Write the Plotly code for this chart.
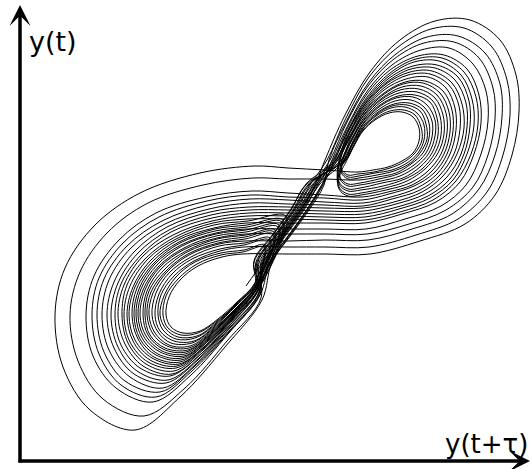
import plotly.graph_objects as go

# Delay-embedding portrait y(t) vs y(t+tau).
# Units: arbitrary, origin at the axes corner.

# ---- left lobe loops (inner -> outer) ----
L00 = [(223,207),(202,204),(178,195),(160,181),(149,164),(146,146),(151,134),(163,128),(180,130),(198,142),(217,159),(235,178)]
La025 = [(223,209),(201,206),(177,197),(158,182),(146,165),(143,146),(148,133),(161,126),(178,128),(197,140),(217,158),(235,178)]
L01 = [(224,211),(201,208),(175,199),(156,184),(144,165),(140,146),(146,132),(158,124),(177,125),(196,138),(216,157),(235,177)]
La075 = [(224,214),(200,210),(174,200),(154,185),(141,166),(138,146),(143,131),(156,122),(175,123),(195,136),(216,156),(236,177)]
L02 = [(224,216),(200,212),(172,202),(152,187),(139,167),(135,146),(140,130),(154,120),(174,120),(194,134),(216,155),(236,176)]
La125 = [(225,218),(199,215),(171,204),(149,188),(136,168),(132,146),(138,129),(151,118),(172,118),(193,132),(216,153),(236,176)]
L03 = [(225,220),(199,217),(169,206),(147,189),(133,168),(129,146),(135,128),(149,116),(170,115),(192,130),(215,152),(236,175)]
La17 = [(225,222),(198,218),(168,207),(146,190),(131,169),(127,146),(133,127),(147,115),(169,113),(192,129),(215,151),(236,175)]
L04 = [(225,224),(198,220),(167,209),(144,191),(129,170),(125,146),(130,126),(145,113),(168,111),(191,127),(215,150),(236,175)]
La21 = [(226,226),(197,222),(166,210),(142,193),(127,170),(123,146),(128,126),(143,112),(166,109),(190,126),(214,150),(236,174)]
L05 = [(226,227),(197,223),(165,212),(140,194),(125,171),(120,146),(126,125),(142,110),(165,107),(189,124),(214,149),(237,174)]
La25 = [(226,229),(196,225),(164,213),(139,195),(123,171),(118,146),(124,124),(140,109),(164,105),(188,122),(214,148),(237,174)]
L06 = [(226,231),(196,227),(162,215),(137,196),(121,172),(116,146),(122,123),(138,107),(162,103),(188,121),(214,147),(237,173)]
La29 = [(226,232),(196,228),(161,216),(135,197),(119,172),(114,146),(120,122),(136,106),(161,101),(187,119),(214,146),(237,173)]
L07 = [(227,234),(195,230),(160,218),(134,198),(117,173),(112,146),(118,122),(134,104),(160,99),(186,118),(213,145),(237,173)]
La33 = [(227,236),(195,232),(159,219),(132,199),(115,174),(109,146),(115,121),(132,103),(159,97),(186,116),(213,144),(237,172)]
L08 = [(227,238),(194,233),(158,221),(130,200),(113,174),(107,146),(113,120),(130,101),(157,95),(185,115),(213,143),(237,172)]
La375 = [(228,240),(194,236),(156,222),(128,202),(110,175),(104,146),(110,119),(128,99),(156,93),(184,113),(212,142),(238,172)]
L09 = [(228,242),(193,238),(155,224),(126,203),(107,176),(102,146),(108,118),(126,97),(154,90),(183,111),(212,141),(238,171)]
La43 = [(228,245),(192,240),(153,226),(123,205),(104,176),(98,146),(105,117),(123,95),(152,87),(182,108),(212,140),(238,171)]
L10 = [(229,248),(192,243),(151,229),(121,206),(101,177),(95,146),(101,116),(120,93),(150,85),(180,106),(212,138),(238,170)]
La495 = [(229,251),(191,246),(149,231),(118,208),(98,178),(91,146),(98,114),(117,90),(148,81),(179,103),(211,137),(238,170)]
L11 = [(229,254),(190,249),(147,234),(115,210),(94,179),(87,146),(94,113),(114,87),(146,78),(178,101),(211,135),(239,169)]
La575 = [(230,258),(189,252),(145,237),(111,213),(89,181),(82,146),(89,111),(110,84),(143,73),(176,97),(210,133),(239,168)]
L12 = [(230,262),(188,256),(142,240),(107,215),(84,182),(77,146),(84,109),(105,80),(140,69),(174,94),(210,131),(239,167)]
La67 = [(231,266),(187,260),(139,244),(103,218),(79,183),(72,146),(79,107),(101,76),(136,64),(172,90),(209,129),(240,167)]
L13 = [(232,270),(186,264),(136,248),(99,221),(74,185),(66,146),(73,105),(96,73),(133,59),(171,86),(208,127),(240,166)]
L14 = [(233,283),(183,276),(128,258),(87,228),(60,189),(50,146),(58,100),(83,62),(124,45),(165,73),(207,120),(241,163)]
L15 = [(235,295),(180,288),(120,268),(75,236),(45,193),(35,146),(43,94),(70,51),(115,31),(160,64),(205,114),(242,161)]

# ---- right lobe loops (inner -> outer) ----
R00 = [(327,301),(334,315),(343,330),(355,341),(369,348),(382,349),(393,344),(399,333),(399,320),(393,308),(382,300),(368,294),(353,291),(338,289)]
Ra025 = [(326,301),(334,316),(343,331),(356,343),(370,350),(384,351),(395,346),(401,334),(402,321),(395,308),(384,299),(370,293),(354,289),(338,287)]
R01 = [(326,301),(334,316),(343,333),(356,345),(371,353),(385,354),(397,348),(404,336),(404,321),(398,308),(387,298),(372,291),(355,288),(339,285)]
Ra075 = [(325,301),(333,317),(344,334),(357,347),(372,355),(387,356),(400,350),(406,337),(407,322),(400,308),(389,297),(374,290),(357,286),(339,283)]
R02 = [(325,301),(333,318),(344,336),(358,349),(374,357),(389,358),(402,352),(409,338),(409,323),(403,308),(391,297),(376,288),(358,284),(339,281)]
Ra13 = [(324,301),(333,319),(344,338),(358,351),(375,360),(391,361),(404,354),(412,340),(412,324),(406,308),(394,296),(378,287),(359,282),(340,278)]
R03 = [(324,301),(333,320),(344,339),(359,354),(376,363),(393,364),(407,356),(415,341),(415,325),(409,308),(397,295),(380,285),(361,280),(340,276)]
Ra19 = [(323,301),(332,321),(344,341),(360,356),(378,365),(395,366),(410,359),(417,343),(418,326),(412,308),(400,294),(383,283),(362,278),(340,273)]
R04 = [(322,301),(332,322),(345,343),(361,359),(379,368),(397,369),(412,361),(420,345),(421,326),(415,308),(402,292),(385,282),(363,275),(341,271)]
Ra25 = [(322,301),(332,323),(345,345),(361,361),(380,371),(399,372),(415,363),(423,346),(424,327),(418,308),(405,292),(387,280),(365,273),(341,268)]
R05 = [(321,301),(331,324),(345,347),(362,363),(382,374),(401,375),(417,366),(426,348),(427,328),(421,307),(408,290),(390,278),(366,271),(341,266)]
Ra31 = [(320,301),(331,325),(345,348),(363,366),(383,377),(403,378),(420,368),(429,349),(430,329),(424,307),(411,289),(392,276),(368,269),(342,264)]
R06 = [(320,301),(331,326),(345,350),(364,368),(385,379),(405,380),(423,370),(432,351),(433,330),(427,307),(414,288),(394,275),(369,267),(342,261)]
Ra375 = [(319,301),(331,327),(346,352),(364,371),(386,382),(408,384),(426,373),(435,353),(436,331),(430,307),(417,287),(397,273),(371,264),(343,258)]
R07 = [(318,301),(330,328),(346,354),(365,374),(388,386),(410,387),(429,376),(439,355),(440,332),(434,307),(420,286),(400,271),(372,262),(343,255)]
Ra445 = [(317,301),(330,329),(346,356),(366,377),(390,389),(412,390),(432,378),(442,357),(444,333),(437,307),(423,285),(402,269),(374,259),(343,253)]
R08 = [(316,301),(330,330),(346,358),(367,379),(391,392),(415,393),(435,381),(446,358),(447,334),(441,307),(427,284),(405,267),(376,257),(344,250)]
Ra515 = [(316,301),(329,331),(347,360),(368,382),(393,395),(417,396),(438,384),(449,360),(450,335),(444,307),(430,282),(408,265),(377,254),(344,247)]
R09 = [(315,301),(329,332),(347,362),(369,385),(394,399),(419,400),(441,386),(452,362),(454,336),(447,307),(433,281),(410,263),(379,252),(345,244)]
Ra585 = [(314,301),(329,333),(347,364),(370,388),(396,402),(422,403),(444,389),(456,364),(458,337),(451,307),(436,280),(413,261),(380,249),(345,241)]
R10 = [(313,301),(328,334),(347,367),(370,391),(398,405),(424,406),(447,392),(459,366),(461,338),(454,307),(440,279),(416,259),(382,247),(345,238)]
R11 = [(312,301),(328,336),(348,371),(372,396),(401,411),(429,413),(453,397),(466,370),(468,340),(461,307),(446,276),(421,255),(385,242),(346,232)]
R12 = [(310,301),(327,339),(348,375),(374,402),(404,418),(434,419),(459,403),(473,373),(475,342),(468,306),(453,274),(426,251),(389,237),(347,227)]
R13 = [(309,301),(327,341),(349,379),(376,407),(407,424),(438,425),(465,408),(480,377),(482,344),(475,306),(459,272),(432,247),(392,232),(348,221)]
R14 = [(307,301),(326,343),(349,384),(378,414),(411,432),(444,433),(472,414),(487,381),(490,346),(483,306),(467,269),(438,242),(396,226),(349,214)]
R15 = [(305,301),(325,346),(350,389),(380,421),(415,440),(450,441),(480,421),(496,386),(499,349),(492,306),(475,266),(445,237),(400,220),(350,207)]

# ---- passages up the central band (left lobe -> right lobe) ----
B_START = [(226,175),(243,199),(262,226),(280,251),(295,276)]
B01 = [(234,199),(253,226),(271,251),(286,276)]
B02 = [(238,199),(257,226),(275,251),(290,276)]
B03 = [(247,199),(266,226),(284,251),(299,276)]
B04 = [(252,199),(271,226),(289,251),(304,276)]
B05 = [(236,199),(255,226),(273,251),(288,276)]
B06 = [(241,199),(260,226),(278,251),(293,276)]
B07 = [(245,199),(264,226),(282,251),(297,276)]
B08 = [(250,199),(269,226),(287,251),(302,276)]
B09 = [(237,199),(256,226),(274,251),(289,276)]
B10 = [(242,199),(261,226),(279,251),(294,276)]
B11 = [(246,199),(265,226),(283,251),(298,276)]
B12 = [(251,199),(270,226),(288,251),(303,276)]
B13 = [(234,200),(253,227),(271,252),(286,277)]
B14 = [(243,198),(262,225),(280,250),(295,275)]
B15 = [(249,198),(268,225),(286,250),(301,275)]
B16 = [(239,198),(258,225),(276,250),(291,275)]
B_END = [(244,199),(263,226),(281,251),(296,276),(308,296)]

# ---- cusps (hooks) near the band ----
HL_a025 = [(244,214)]
HL_01 = [(245,216)]
HL_02 = [(249,221)]
HL_a125 = [(250,223)]
HL_a17 = [(253,227)]
HL_04 = [(254,229)]
HL_a21 = [(255,231)]
HL_a25 = [(258,234)]
HL_07 = [(262,239)]
HL_06 = [(259,236)]
HL_a33 = [(263,241)]
HL_a375 = [(266,245)]
HR_a025 = [(328,286),(321,293)]
HR_01 = [(328,284),(321,291)]
HR_a075 = [(328,282),(321,289)]
HR_a13 = [(328,277),(320,284)]
HR_03 = [(328,275),(320,282)]
HR_a19 = [(328,272),(319,279)]
HR_04 = [(328,270),(319,277)]
HR_a25 = [(328,267),(319,274)]
HR_05 = [(328,265),(319,272)]

# ---- strands crossing from the right lobe to the left lobe ----
X01 = [(305,207),(268,207)]
X02 = [(305,282),(268,282)]
X03 = [(305,214),(268,214)]
X04 = [(305,291),(268,293)]
X05 = [(305,221),(268,220)]
X06 = [(305,263),(268,264)]
X07 = [(305,227),(268,227)]
X08 = [(305,266),(268,268)]
X09 = [(305,232),(268,232)]
X10 = [(305,259),(268,261)]
X11 = [(305,238),(268,238)]
X12 = [(305,241),(268,242)]
X13 = [(305,244),(268,245)]
X14 = [(305,247),(268,248)]
X15 = [(305,250),(268,251)]
X16 = [(305,253),(268,254)]
X17 = [(305,256),(268,257)]

trajectory = [
    B_START, R15, X01, L00, HL_a025, La025, HL_01, L01,
    B01, Ra025, HR_a025, R01, HR_01, R02, X02, L14,
    B02, R14, X03, La075, HL_02, L02,
    B03, Ra075, HR_a075, Ra13, HR_a13, R00, X04, L15,
    B04, R13, X05, L03, HL_a125, La125, HL_a17, La17,
    B05, R03, HR_03, Ra19, HR_a19, R06, X06, La67,
    B06, R12, X07, L05, HL_04, L04, HL_a21, La21,
    B07, R04, HR_04, Ra25, HR_a25, Ra31, X08, L13,
    B08, R11, X09, La29, HL_a25, La25,
    B09, R05, HR_05, Ra375, X10, L12,
    B10, R10, X11, L08, HL_07, L07, HL_06, L06,
    B11, Ra585, X12, L09, HL_a33, La33,
    B12, R09, X13, La43, HL_a375, La375,
    B13, Ra515, X14, L10,
    B14, R08, X15, La495,
    B15, Ra445, X16, L11,
    B16, R07, X17, La575, B_END,
]

xs = [p[0] for seg in trajectory for p in seg]
ys = [p[1] for seg in trajectory for p in seg]

x_label = "y(t+τ)"
y_label = "y(t)"

fig = go.Figure()
fig.add_trace(go.Scatter(x=xs, y=ys, mode="lines",
                         line=dict(color="black", width=1, shape="spline", smoothing=1.0),
                         hoverinfo="skip", showlegend=False))

axis_common = dict(showgrid=False, zeroline=False, showticklabels=False,
                   showline=False, ticks="", fixedrange=True)
fig.update_layout(
    width=530, height=469,
    margin=dict(l=0, r=0, t=0, b=0),
    paper_bgcolor="white", plot_bgcolor="white",
    xaxis=dict(range=[-20, 510], **axis_common),
    yaxis=dict(range=[-8, 461], **axis_common),
    showlegend=False,
)

# axis arrows
fig.add_annotation(x=0, y=456, ax=0, ay=-3, xref="x", yref="y", axref="x", ayref="y",
                   text="", showarrow=True, arrowhead=3, arrowsize=1, arrowwidth=3.5,
                   arrowcolor="black", standoff=0, startstandoff=0)
fig.add_annotation(x=510, y=0, ax=-3, ay=0, xref="x", yref="y", axref="x", ayref="y",
                   text="", showarrow=True, arrowhead=3, arrowsize=1, arrowwidth=3.5,
                   arrowcolor="black", standoff=0, startstandoff=0)

# axis labels
fig.add_annotation(x=7, y=420, xref="x", yref="y", text=y_label, showarrow=False,
                   xanchor="left", yanchor="middle",
                   font=dict(family="DejaVu Sans", size=27, color="black"))
fig.add_annotation(x=423, y=17, xref="x", yref="y", text=x_label, showarrow=False,
                   xanchor="left", yanchor="middle",
                   font=dict(family="DejaVu Sans", size=26, color="black"))

fig.write_html("out.html", config={"displayModeBar": False},
               post_script="document.body.style.margin='0px';")
